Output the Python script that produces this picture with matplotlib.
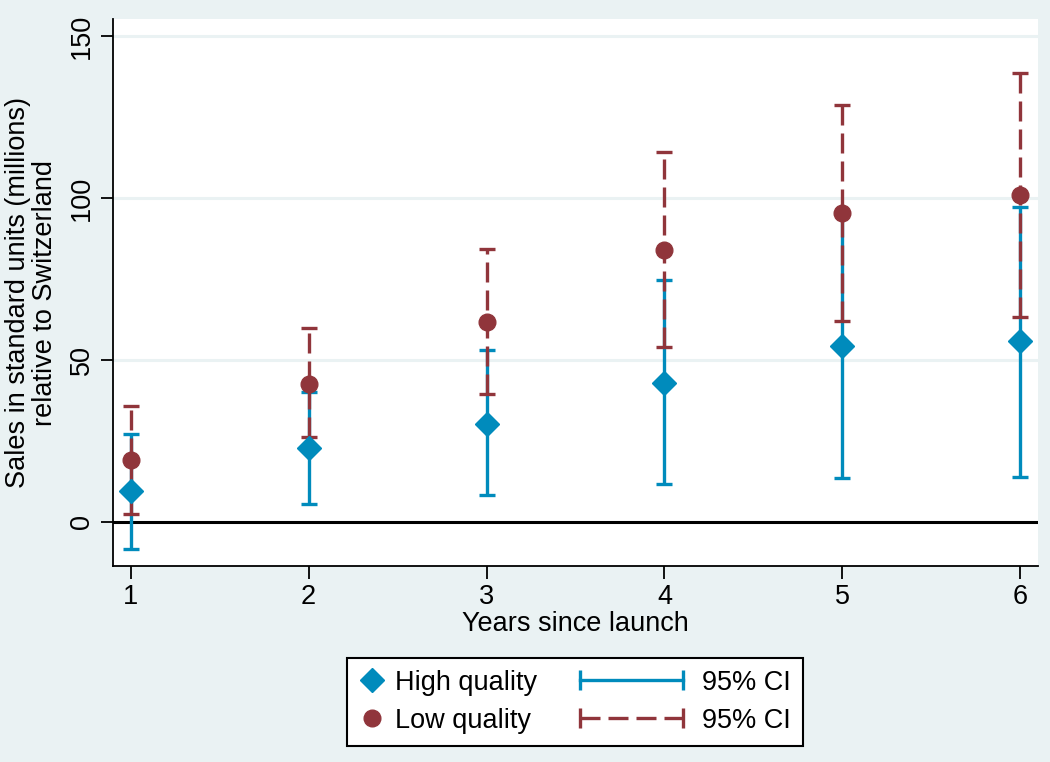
import matplotlib
matplotlib.use("Agg")
import matplotlib.pyplot as plt
from matplotlib.lines import Line2D
from matplotlib.legend_handler import HandlerLine2D
import numpy as np

plt.rcParams['font.family'] = ['Liberation Sans', 'DejaVu Sans']

years = [1, 2, 3, 4, 5, 6]
high_est = [9.4, 22.9, 30.2, 42.9, 54.4, 55.7]
high_lo = [-8.3, 5.6, 8.3, 11.7, 13.6, 13.9]
high_hi = [27.2, 40.1, 53.0, 74.7, 95.5, 97.3]
low_est = [19.1, 42.6, 61.7, 84.0, 95.3, 100.9]
low_lo = [2.5, 26.2, 39.5, 54.0, 62.0, 63.1]
low_hi = [35.9, 59.9, 84.3, 114.2, 128.7, 138.5]

BG = '#eaf2f3'
BLUE = '#008bbc'
RED = '#90353b'
FS = 19.5

fig = plt.figure(figsize=(10.5, 7.62), dpi=100, facecolor=BG)
ax = fig.add_axes([0.1076, 0.2572, 0.881, 0.7178])
ax.set_facecolor('white')

# error bars
def ci(est, lo, hi, color, dashed):
    est = np.array(est)
    err = [est - np.array(lo), np.array(hi) - est]
    line, caps, bars = ax.errorbar(years, est, yerr=err, fmt='none', ecolor=color,
                                   elinewidth=2.4, capsize=5.5, capthick=2.4, zorder=3)
    if dashed:
        bars[0].set_linestyle((0, (6, 2.4)))

ci(high_est, high_lo, high_hi, BLUE, False)
ci(low_est, low_lo, low_hi, RED, True)

ax.plot(years, high_est, 'D', color=BLUE, markersize=12.5, zorder=4, linestyle='none')
ax.plot(years, low_est, 'o', color=RED, markersize=12, zorder=5, linestyle='none')

ax.axhline(0, color='black', lw=2.2, zorder=2)
for g in [50, 100, 150]:
    ax.axhline(g, color=BG, lw=2.2, zorder=1)

ax.set_xlim(0.9, 6.1)
ax.set_ylim(-13.6, 155.2)
ax.set_xticks(years)
ax.set_yticks([0, 50, 100, 150])
ax.tick_params(axis='both', labelsize=FS, length=9, width=1.3, direction='out', pad=4)
ax.tick_params(axis='y', labelrotation=90)
for lbl in ax.get_yticklabels():
    lbl.set_va('center')
for s in ['top', 'right']:
    ax.spines[s].set_visible(False)
for s in ['left', 'bottom']:
    ax.spines[s].set_linewidth(1.3)

ax.set_xlabel('Years since launch', fontsize=FS, labelpad=1)
ax.set_ylabel('Sales in standard units (millions)\nrelative to Switzerland',
              fontsize=FS, labelpad=8, linespacing=1.05)


class CIHandler(HandlerLine2D):
    # wider handle box for the CI lines only
    def legend_artist(self, legend, orig_handle, fontsize, handlebox):
        handlebox.width *= 4.9
        return super().legend_artist(legend, orig_handle, fontsize, handlebox)


h_mark = Line2D([], [], marker='D', color=BLUE, linestyle='none', markersize=12.5)
l_mark = Line2D([], [], marker='o', color=RED, linestyle='none', markersize=12)
h_ci = Line2D([], [], marker='|', color=BLUE, lw=2.4, markersize=14, markeredgewidth=2.4)
l_ci = Line2D([], [], marker='|', color=RED, lw=2.4, markersize=14, markeredgewidth=2.4,
              linestyle=(0, (6, 2.4)))

leg = fig.legend([h_mark, l_mark, h_ci, l_ci],
                 ['High quality', 'Low quality', '95% CI', '95% CI'],
                 ncol=2, loc='center', bbox_to_anchor=(0.548, 0.079),
                 fontsize=FS, handlelength=0.9, handletextpad=0.4,
                 columnspacing=1.3, labelspacing=0.45, borderpad=0.45,
                 fancybox=False, edgecolor='black', framealpha=1,
                 handler_map={h_ci: CIHandler(numpoints=2), l_ci: CIHandler(numpoints=2),
                              h_mark: HandlerLine2D(numpoints=1),
                              l_mark: HandlerLine2D(numpoints=1)})
leg.get_frame().set_linewidth(1.5)

fig.savefig('out.png', dpi=100, facecolor=BG)
